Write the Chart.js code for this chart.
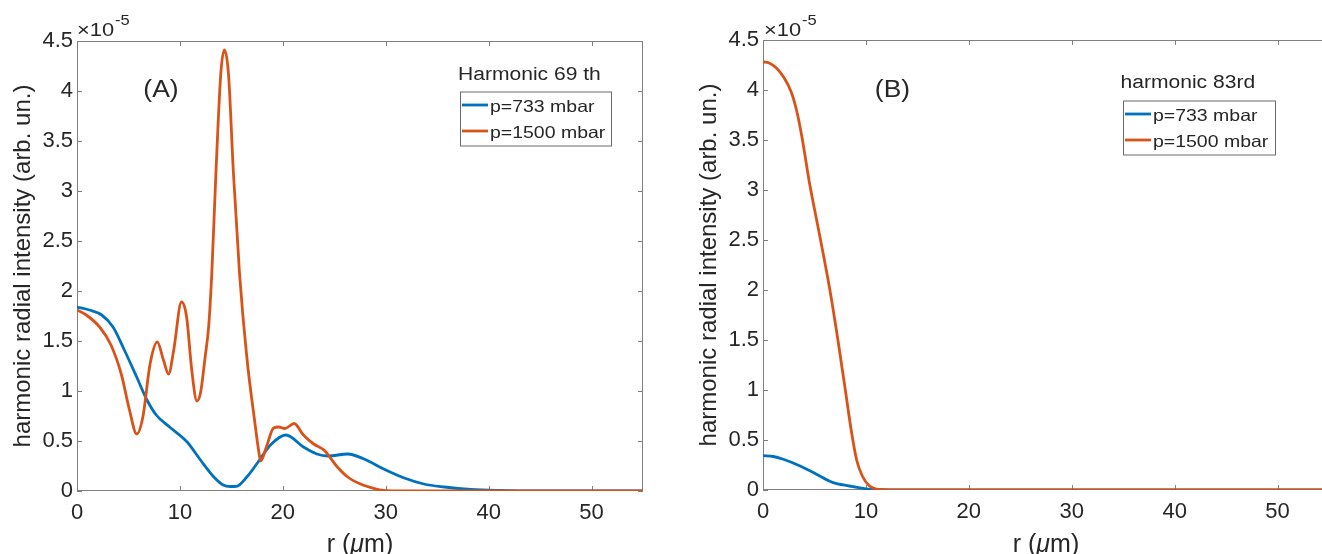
<!DOCTYPE html>
<html><head><meta charset="utf-8">
<script src="https://cdn.jsdelivr.net/npm/chart.js@4.4.1/dist/chart.umd.min.js"></script>
<style>
html,body{margin:0;padding:0;background:#fff;overflow:hidden;width:1322px;height:554px;position:relative;}
#wrapA{position:absolute;left:0;top:0;width:660px;height:554px;}
#wrapB{position:absolute;left:660px;top:0;width:680px;height:554px;}
canvas{display:block;}
</style></head><body>
<div id="wrapA"><canvas id="cA" width="660" height="554"></canvas></div>
<div id="wrapB"><canvas id="cB" width="680" height="554"></canvas></div>
<script>
// ---------- data ----------
const xTicks = [0, 10, 20, 30, 40, 50];
const xTickLabels = ['0', '10', '20', '30', '40', '50'];
const yTicks = [0, 0.5, 1, 1.5, 2, 2.5, 3, 3.5, 4, 4.5];
const yTickLabels = ['0', '0.5', '1', '1.5', '2', '2.5', '3', '3.5', '4', '4.5'];
const seriesLabels = ['p=733 mbar', 'p=1500 mbar'];
const yTitle = 'harmonic radial intensity (arb. un.)';
const xMax = 55, yMax = 4.5;

// Panel A (harmonic 69th), intensity in units of 1e-5
const rA733 = [0, 1.2, 2.4, 3.5, 4.6, 5.8, 6.8, 7.7, 9.0, 10.7, 12.0, 13.3, 14.2, 14.9, 15.5, 16.5, 17.6, 18.8, 20.3, 22.0, 23.3, 24.4, 26.3, 27.9, 29.8, 31.8, 33.7, 35.7, 38.3, 41.0, 45.0, 55.0];
const iA733 = [1.84, 1.81, 1.76, 1.64, 1.41, 1.14, 0.91, 0.76, 0.64, 0.49, 0.31, 0.14, 0.06, 0.045, 0.047, 0.14, 0.29, 0.46, 0.56, 0.44, 0.37, 0.35, 0.37, 0.32, 0.22, 0.13, 0.07, 0.04, 0.015, 0.005, 0, 0];
const rA1500 = [0, 0.9, 2.2, 3.3, 4.3, 5.1, 5.8, 6.4, 7.1, 7.8, 8.4, 8.9, 9.4, 10.15, 10.65, 11.15, 11.65, 12.0, 12.45, 12.8, 13.1, 13.5, 13.97, 14.32, 14.72, 15.2, 15.79, 16.5, 17.3, 17.64, 17.85, 18.4, 19.1, 19.6, 20.2, 21.1, 22.0, 23.0, 24.0, 25.3, 26.3, 27.6, 28.9, 29.8, 31.0, 55.0];
const iA1500 = [1.81, 1.76, 1.64, 1.46, 1.17, 0.81, 0.57, 0.74, 1.27, 1.49, 1.31, 1.17, 1.41, 1.89, 1.74, 1.21, 0.90, 0.98, 1.34, 1.65, 2.18, 3.18, 4.17, 4.41, 4.17, 3.18, 2.18, 1.34, 0.67, 0.41, 0.30, 0.44, 0.63, 0.64, 0.625, 0.675, 0.56, 0.47, 0.41, 0.24, 0.14, 0.067, 0.024, 0.005, 0, 0];

// Panel B (harmonic 83rd)
const rB733 = [0, 1.0, 1.9, 3.55, 5.15, 6.75, 8.4, 10.0, 11.5, 13.0, 55.0];
const iB733 = [0.344, 0.335, 0.31, 0.243, 0.16, 0.076, 0.04, 0.012, 0.003, 0, 0];
const rB1500 = [0, 0.6, 1.3, 2.0, 2.74, 3.3, 3.8, 4.5, 5.5, 6.5, 7.25, 8.0, 8.6, 9.1, 9.65, 10.3, 11.3, 12.5, 55.0];
const iB1500 = [4.28, 4.27, 4.22, 4.13, 3.98, 3.78, 3.52, 3.08, 2.55, 2.0, 1.52, 1.0, 0.58, 0.3, 0.14, 0.045, 0.005, 0, 0];

// ---------- styling ----------
const FONT = "'Liberation Sans', Arial, Helvetica, sans-serif";
const TEXT = '#262626';
const AXIS = '#808080';
const BLUE = '#0072BD';
const ORANGE = '#D95319';

function pts(xs, ys) { return xs.map((x, i) => ({x: x, y: ys[i]})); }

function stretchText(ctx, str, x, y, size, sx, align, italic) {
  ctx.save();
  ctx.font = (italic ? 'italic ' : '') + size + 'px ' + FONT;
  ctx.textBaseline = 'alphabetic';
  ctx.textAlign = 'left';
  ctx.fillStyle = TEXT;
  const w = ctx.measureText(str).width * sx;
  let dx = 0;
  if (align === 'center') dx = -w / 2; else if (align === 'right') dx = -w;
  ctx.translate(x + dx, y);
  ctx.scale(sx, 1);
  ctx.fillText(str, 0, 0);
  ctx.restore();
  return w;
}

const decorPlugin = {
  id: 'decor',
  beforeDatasetsDraw(chart, args, o) {
    const ctx = chart.ctx;
    const a = chart.chartArea;
    const xs = chart.scales.x, ys = chart.scales.y;
    ctx.save();
    ctx.strokeStyle = AXIS;
    ctx.lineWidth = 1;
    ctx.strokeRect(a.left + 0.5, a.top + 0.5, a.right - a.left - 1, a.bottom - a.top - 1);
    ctx.beginPath();
    const tl = 5;
    xTicks.forEach(v => {
      const px = Math.round(xs.getPixelForValue(v)) + 0.5;
      ctx.moveTo(px, a.bottom); ctx.lineTo(px, a.bottom - tl);
      ctx.moveTo(px, a.top); ctx.lineTo(px, a.top + tl);
    });
    yTicks.forEach(v => {
      const py = Math.round(ys.getPixelForValue(v)) + 0.5;
      ctx.moveTo(a.left, py); ctx.lineTo(a.left + tl, py);
      ctx.moveTo(a.right, py); ctx.lineTo(a.right - tl, py);
    });
    ctx.stroke();
    ctx.restore();
  },
  afterDatasetsDraw(chart, args, o) {
    const ctx = chart.ctx;
    const a = chart.chartArea;
    // panel label
    stretchText(ctx, o.panel, o.panelX, o.panelY, 23, 1.15, 'center');
    // exponent multiplier
    const w = stretchText(ctx, '\u00d710', o.expX, 36, 19, 1.15, 'left');
    stretchText(ctx, '-5', o.expX + w + 1, 25, 15, 1.1, 'left');
    // x title  r (μm)
    const size = 25;
    ctx.save();
    ctx.font = size + 'px ' + FONT;
    const w1 = ctx.measureText('r (').width;
    const w3 = ctx.measureText('m)').width;
    ctx.font = 'italic ' + size + 'px ' + FONT;
    const w2 = ctx.measureText('\u03bc').width;
    ctx.restore();
    const cx = (a.left + a.right) / 2;
    let x0 = cx - (w1 + w2 + w3) / 2;
    stretchText(ctx, 'r (', x0, 552, size, 1, 'left');
    stretchText(ctx, '\u03bc', x0 + w1, 552, size, 1, 'left', true);
    stretchText(ctx, 'm)', x0 + w1 + w2, 552, size, 1, 'left');
    // legend title
    stretchText(ctx, o.legTitle, o.legTitleX, o.legTitleY, 18, 1.17, 'left');
    // legend box
    const b = o.box;
    ctx.save();
    ctx.fillStyle = '#ffffff';
    ctx.fillRect(b.x, b.y, b.w, b.h);
    ctx.strokeStyle = '#6a6a6a';
    ctx.lineWidth = 1;
    ctx.strokeRect(b.x + 0.5, b.y + 0.5, b.w, b.h);
    ctx.restore();
    chart.data.datasets.forEach((ds, i) => {
      const ly = b.y + 13.5 + i * 26;
      ctx.save();
      ctx.strokeStyle = ds.borderColor;
      ctx.lineWidth = ds.borderWidth;
      ctx.beginPath();
      ctx.moveTo(b.x + 2, ly); ctx.lineTo(b.x + 28, ly);
      ctx.stroke();
      ctx.restore();
      stretchText(ctx, ds.label, b.x + 30, ly + 7, 16.5, 1.18, 'left');
    });
  }
};

function makeChart(id, r1, v1, r2, v2, P) {
  const ctx = document.getElementById(id).getContext('2d');
  return new Chart(ctx, {
    type: 'line',
    data: {
      datasets: [
        {label: seriesLabels[0], data: pts(r1, v1), borderColor: BLUE, borderWidth: 2.8, pointRadius: 0, cubicInterpolationMode: 'monotone', fill: false, order: 2},
        {label: seriesLabels[1], data: pts(r2, v2), borderColor: ORANGE, borderWidth: 2.8, pointRadius: 0, cubicInterpolationMode: 'monotone', fill: false, order: 1}
      ]
    },
    options: {
      responsive: false,
      animation: false,
      devicePixelRatio: 1,
      events: [],
      layout: {padding: {left: 0, top: P.padTop, right: P.padRight, bottom: 0}},
      plugins: {legend: {display: false}, tooltip: {enabled: false}, decor: P},
      scales: {
        x: {
          type: 'linear', min: 0, max: xMax,
          grid: {display: false, drawTicks: false},
          border: {display: false},
          afterBuildTicks: s => { s.ticks = xTicks.map(v => ({value: v})); },
          afterFit: s => { s.height = P.xAxisHeight; },
          ticks: {autoSkip: false, maxRotation: 0, padding: 9, color: TEXT, font: {family: FONT, size: 22},
                  callback: (v, i) => xTickLabels[i]}
        },
        y: {
          type: 'linear', min: 0, max: yMax,
          grid: {display: false, drawTicks: false},
          border: {display: false},
          afterBuildTicks: s => { s.ticks = yTicks.map(v => ({value: v})); },
          afterFit: s => { s.width = P.yAxisWidth; },
          ticks: {autoSkip: false, padding: 4, color: TEXT, font: {family: FONT, size: 22},
                  callback: (v, i) => yTickLabels[i]},
          title: {display: true, text: yTitle, color: TEXT, font: {family: FONT, size: 24}, padding: {top: P.yTitlePad, bottom: 0}}
        }
      }
    },
    plugins: [decorPlugin]
  });
}

makeChart('cA', rA733, iA733, rA1500, iA1500, {
  padTop: 41, padRight: 17, xAxisHeight: 63, yAxisWidth: 77, yTitlePad: 9,
  panel: '(A)', panelX: 161, panelY: 97, expX: 77,
  legTitle: 'Harmonic 69 th', legTitleX: 458, legTitleY: 80,
  box: {x: 460, y: 91.5, w: 151, h: 54}
});

makeChart('cB', rB733, iB733, rB1500, iB1500, {
  padTop: 40, padRight: 11, xAxisHeight: 64, yAxisWidth: 103, yTitlePad: 35,
  panel: '(B)', panelX: 232.5, panelY: 97, expX: 104,
  legTitle: 'harmonic 83rd', legTitleX: 460.5, legTitleY: 87.5,
  box: {x: 463, y: 100.5, w: 152, h: 54}
});
</script>
</body></html>
